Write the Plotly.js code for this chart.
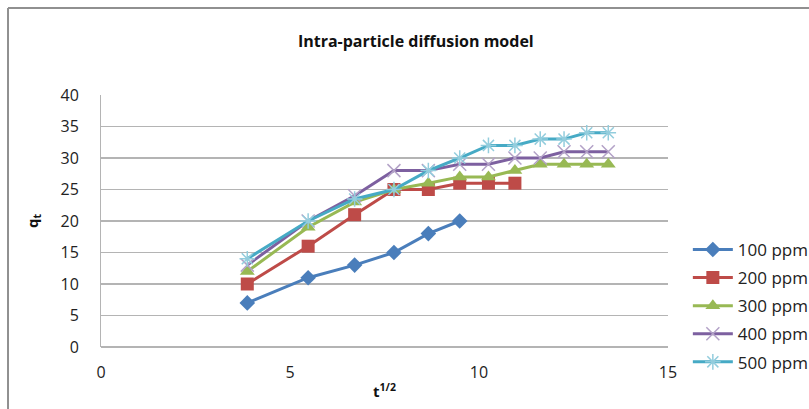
<!DOCTYPE html>
<html>
<head>
<meta charset="utf-8">
<script src="https://cdn.plot.ly/plotly-3.0.1.min.js"></script>
<style>
html,body{margin:0;padding:0;background:#fff;}
#chart{width:809px;height:409px;}
</style>
</head>
<body>
<div id="chart"></div>
<script>
const tRoot = [3.87, 5.48, 6.71, 7.75, 8.66, 9.49, 10.25, 10.95, 11.62, 12.25, 12.85, 13.42];
const seriesNames = ["100 ppm", "200 ppm", "300 ppm", "400 ppm", "500 ppm"];
const q100 = [7, 11, 13, 15, 18, 20];
const q200 = [10, 16, 21, 25, 25, 26, 26, 26];
const q300 = [12, 19, 23, 25, 26, 27, 27, 28, 29, 29, 29, 29];
const q400 = [13, 20, 24, 28, 28, 29, 29, 30, 30, 31, 31, 31];
const q500 = [14, 20, 23.5, 25, 28, 30, 32, 32, 33, 33, 34, 34];

const values = [q100, q200, q300, q400, q500];
const lineColors = ["#4A7EBB", "#BE4B48", "#98B954", "#7D60A0", "#46AAC5"];
const markerColors = ["#4A7EBB", "#BE4B48", "#98B954", "#B3A2C7", "#93CDDD"];
const symbols = ["diamond", "square", "triangle-up", "x-thin-open", "asterisk-open"];
const sizes = [12, 13, 13, 13, 13];

const font = "'Open Sans', sans-serif";

const traces = values.map((v, i) => ({
  x: tRoot.slice(0, v.length),
  y: v,
  name: seriesNames[i],
  type: "scatter",
  mode: "lines+markers",
  legendgroup: "g" + i,
  line: {color: lineColors[i], width: 3},
  marker: {
    symbol: symbols[i],
    size: sizes[i],
    color: markerColors[i],
    line: {color: markerColors[i], width: (i >= 3 ? 1.5 : 0)}
  }
}));

const layout = {
  width: 809,
  height: 409,
  margin: {l: 101, r: 141, t: 95, b: 62, autoexpand: false},
  paper_bgcolor: "#fff",
  plot_bgcolor: "#fff",
  font: {family: font, color: "#222", size: 16},
  title: {
    text: "<b>Intra-particle diffusion model</b>",
    font: {family: font, size: 16, color: "#111"},
    x: 0.514, xref: "container", xanchor: "center",
    y: 0.9, yref: "container", yanchor: "middle"
  },
  xaxis: {
    range: [0, 15],
    tickvals: [0, 5, 10, 15],
    showgrid: false,
    zeroline: false,
    showline: false,
    ticks: "",
    ticklabelstandoff: 14,
    tickfont: {family: font, size: 16, color: "#222"},
    title: {text: "<b>t<sup>1/2</sup></b>", font: {family: font, size: 15, color: "#111"}, standoff: 4}
  },
  yaxis: {
    range: [0, 40],
    tickvals: [0, 5, 10, 15, 20, 25, 30, 35, 40],
    showgrid: true,
    gridcolor: "#b4b4b4",
    gridwidth: 1.5,
    zeroline: true,
    zerolinecolor: "#b4b4b4",
    zerolinewidth: 1.5,
    showline: true,
    linecolor: "#b4b4b4",
    linewidth: 1,
    ticks: "",
    ticklabelstandoff: 18,
    tickfont: {family: font, size: 16, color: "#222"},
    title: {text: "<b>q<sub>t</sub></b>", font: {family: font, size: 15, color: "#111"}, standoff: 18}
  },
  legend: {
    x: 1.035, xanchor: "left",
    y: 0.163, yanchor: "middle",
    font: {family: font, size: 17, color: "#222"},
    tracegroupgap: 3,
    bgcolor: "rgba(0,0,0,0)",
    itemwidth: 40
  },
  shapes: [
    {type: "line", xref: "paper", yref: "paper", x0: -0.164, x1: 1.3, y0: 1.345, y1: 1.345,
     line: {color: "#909090", width: 2}},
    {type: "line", xref: "paper", yref: "paper", x0: -0.164, x1: -0.164, y0: 1.345, y1: -0.3,
     line: {color: "#909090", width: 2}}
  ],
  showlegend: true
};

Plotly.newPlot("chart", traces, layout, {displayModeBar: false, staticPlot: true});
</script>
</body>
</html>
